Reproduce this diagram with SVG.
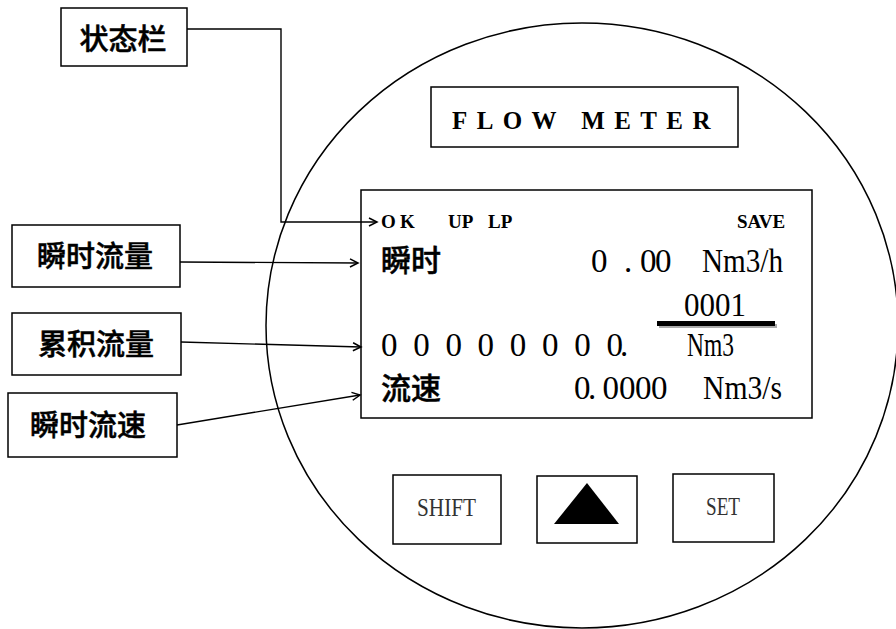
<svg xmlns="http://www.w3.org/2000/svg" width="896" height="629" viewBox="0 0 896 629">
  <defs>
    <style>
      .frame { fill: #fff; stroke: #000; stroke-width: 1.5; }
      .body { fill: none; stroke: #000; stroke-width: 1.5; }
      .wire { fill: none; stroke: #000; stroke-width: 1.4; }
      .label { font-family: "Noto Sans CJK SC", sans-serif; font-size: 29px; font-weight: 500; fill: #000; stroke: #000; stroke-width: 0.5; text-anchor: middle; }
      .cjk { font-family: "Noto Sans CJK SC", sans-serif; font-size: 30px; font-weight: 500; fill: #000; stroke: #000; stroke-width: 0.5; }
      .num { font-family: "Liberation Serif", "Times New Roman", serif; font-size: 33px; fill: #000; }
      .stat { font-family: "Liberation Serif", "Times New Roman", serif; font-size: 19px; font-weight: bold; fill: #000; }
      .title { font-family: "Liberation Serif", "Times New Roman", serif; font-size: 25px; font-weight: bold; letter-spacing: 9.4px; fill: #000; }
      .key { font-family: "Liberation Serif", "Times New Roman", serif; font-size: 25px; fill: #333; }
    </style>
    <marker id="arrow" markerUnits="userSpaceOnUse" markerWidth="12" markerHeight="12" refX="9" refY="5" orient="auto">
      <path d="M1,1 L9,5 L1,9" fill="none" stroke="#000" stroke-width="1.5"/>
    </marker>
  </defs>

  <rect width="896" height="629" fill="#fff"/>

  <!-- meter housing -->
  <g id="meter-body">
    <ellipse class="body" cx="582" cy="325.5" rx="316" ry="302.5"/>
  </g>

  <!-- title plate -->
  <g id="title-plate">
    <rect class="frame" x="431" y="87" width="307" height="60"/>
    <text class="title" x="452" y="129">FLOW METER</text>
  </g>

  <!-- LCD panel -->
  <g id="lcd">
    <rect class="frame" x="361" y="190" width="451" height="228"/>
    <text class="stat" x="381 395 400" y="228" xml:space="preserve">O K</text>
    <text class="stat" x="448" y="228">UP</text>
    <text class="stat" x="488" y="228">LP</text>
    <text class="stat" x="737" y="228">SAVE</text>

    <text class="cjk" x="381" y="271">瞬时</text>
    <text class="num" x="591 606 624 640 655" y="272">0 .00</text>
    <text class="num" x="702" y="272" textLength="81" lengthAdjust="spacingAndGlyphs">Nm3/h</text>

    <text class="num" x="684" y="316" textLength="62" lengthAdjust="spacingAndGlyphs">0001</text>
    <rect x="659" y="324" width="118" height="4" fill="#aaa"/>
    <rect x="657" y="321" width="118" height="5" fill="#000"/>

    <text class="num" x="381 397 413.2 429 445.4 461 477.6 494 509.8 526 542 558 574.2 590 606.4 620" y="356">0 0 0 0 0 0 0 0.</text>
    <text class="num" x="687" y="356" textLength="47" lengthAdjust="spacingAndGlyphs">Nm3</text>

    <text class="cjk" x="381" y="399">流速</text>
    <text class="num" x="574 588 602.5 619 635 651" y="399">0.0000</text>
    <text class="num" x="703" y="399" textLength="79" lengthAdjust="spacingAndGlyphs">Nm3/s</text>
  </g>

  <!-- keypad -->
  <g id="key-shift">
    <rect class="frame" x="393" y="475" width="108" height="69"/>
    <text class="key" x="417" y="516" textLength="59" lengthAdjust="spacingAndGlyphs">SHIFT</text>
  </g>
  <g id="key-up">
    <rect class="frame" x="537" y="476" width="100" height="67"/>
    <polygon points="587,483 619,524 554,524" fill="#000"/>
  </g>
  <g id="key-set">
    <rect class="frame" x="673" y="474" width="101" height="68"/>
    <text class="key" x="706" y="515" textLength="34" lengthAdjust="spacingAndGlyphs">SET</text>
  </g>

  <!-- callout labels -->
  <g id="label-status">
    <rect class="frame" x="61" y="8" width="126" height="58"/>
    <text class="label" x="123" y="50">状态栏</text>
  </g>
  <g id="label-flow">
    <rect class="frame" x="12" y="225" width="168" height="62"/>
    <text class="label" x="95" y="267">瞬时流量</text>
  </g>
  <g id="label-total">
    <rect class="frame" x="12" y="313" width="169" height="62"/>
    <text class="label" x="96" y="355">累积流量</text>
  </g>
  <g id="label-velocity">
    <rect class="frame" x="8" y="393" width="169" height="64"/>
    <text class="label" x="88" y="436">瞬时流速</text>
  </g>

  <!-- connectors -->
  <g id="connectors">
    <polyline class="wire" points="187,29 281,29 281,222 377,222" marker-end="url(#arrow)"/>
    <line class="wire" x1="180" y1="262" x2="358" y2="263" marker-end="url(#arrow)"/>
    <line class="wire" x1="181" y1="342" x2="361" y2="347" marker-end="url(#arrow)"/>
    <line class="wire" x1="177" y1="425" x2="360" y2="395" marker-end="url(#arrow)"/>
  </g>
</svg>
